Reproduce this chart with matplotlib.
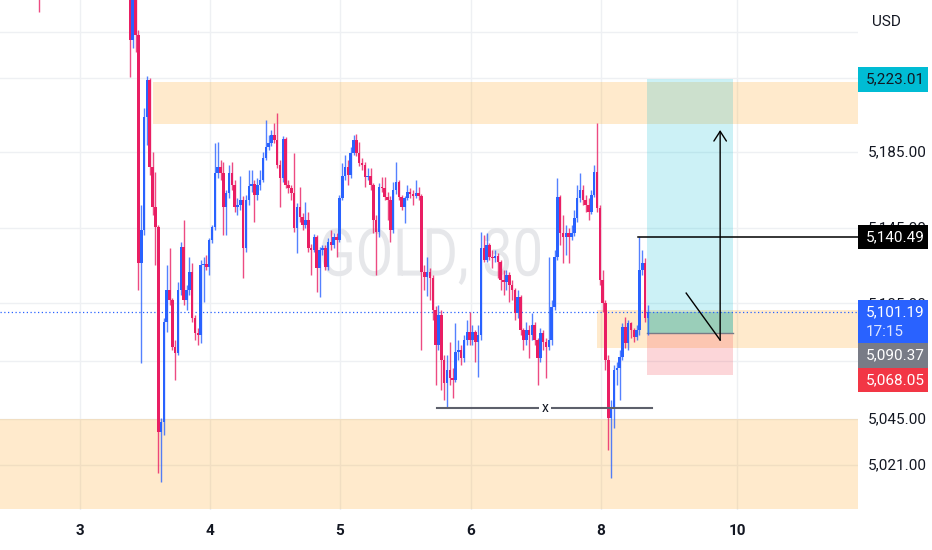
import numpy as np
import matplotlib
matplotlib.use('Agg')
import matplotlib.pyplot as plt
from matplotlib.patches import Rectangle, PathPatch
from matplotlib.textpath import TextPath
from matplotlib.font_manager import FontProperties
from matplotlib.transforms import Affine2D

plt.rcParams['font.family'] = ['Roboto', 'DejaVu Sans']

# 30 minute GOLD candles (open = previous close)
first_open = 5267.2
closes = [
    5243.6, 5264.6, 5246.3, 5126.8, 5144.1, 5203.3, 5222.7, 5177.1, 5156.2, 5145.7,
    5038.3, 5043.6, 5095.9, 5112.7, 5107.5, 5082.8, 5079.7, 5112.7, 5135.2, 5107.5,
    5112.7, 5122.1, 5098.0, 5090.2, 5089.1, 5125.8, 5126.3, 5124.7, 5138.9, 5145.7,
    5174.0, 5177.1, 5174.0, 5156.2, 5163.5, 5174.0, 5167.7, 5156.2, 5157.2, 5159.8,
    5134.7, 5159.8, 5167.2, 5168.2, 5162.5, 5167.7, 5170.3, 5181.8, 5187.6, 5189.7,
    5193.9, 5191.3, 5178.2, 5171.4, 5191.8, 5167.7, 5166.1, 5163.5, 5145.2, 5156.2,
    5150.9, 5146.7, 5149.4, 5134.7, 5133.6, 5140.5, 5124.2, 5133.6, 5134.7, 5124.7,
    5137.8, 5136.3, 5140.5, 5138.9, 5160.9, 5172.4, 5177.1, 5172.9, 5184.5, 5191.3,
    5184.5, 5179.2, 5178.2, 5171.9, 5172.4, 5167.7, 5149.4, 5143.1, 5166.6, 5166.1,
    5161.4, 5159.8, 5144.1, 5165.1, 5169.3, 5161.4, 5156.2, 5160.9, 5164.0, 5163.0,
    5161.9, 5163.5, 5161.9, 5122.1, 5119.5, 5122.1, 5119.0, 5102.2, 5083.9, 5099.6,
    5076.0, 5064.0, 5070.8, 5066.6, 5065.6, 5080.2, 5081.3, 5077.1, 5086.5, 5090.7,
    5086.5, 5090.7, 5085.5, 5089.1, 5134.7, 5128.4, 5136.3, 5130.0, 5129.5, 5130.5,
    5127.4, 5117.9, 5116.9, 5120.6, 5115.3, 5112.7, 5100.6, 5109.0, 5091.7, 5086.5,
    5091.7, 5089.1, 5094.4, 5086.5, 5077.1, 5090.2, 5085.5, 5082.8, 5086.5, 5103.8,
    5130.0, 5161.4, 5142.6, 5140.5, 5142.6, 5140.5, 5142.6, 5150.4, 5160.9, 5165.1,
    5159.8, 5157.2, 5153.6, 5162.5, 5174.5, 5155.6, 5117.9, 5105.9, 5076.0, 5045.7,
    5050.9, 5070.8, 5071.8, 5077.6, 5093.3, 5084.9, 5095.4, 5091.7, 5088.1, 5091.7,
    5123.2, 5126.8, 5098.0, 5101.19]
highs = [
    5275.1, 5272.5, 5269.8, 5248.9, 5157.2, 5208.0, 5224.8, 5223.7, 5185.0, 5174.5,
    5146.7, 5045.7, 5098.0, 5125.8, 5134.7, 5108.5, 5086.5, 5116.9, 5137.8, 5149.4,
    5115.3, 5130.0, 5126.8, 5099.6, 5092.8, 5128.4, 5130.0, 5131.0, 5139.9, 5146.7,
    5189.7, 5190.2, 5180.8, 5179.7, 5165.1, 5178.2, 5179.7, 5170.3, 5160.9, 5172.4,
    5161.9, 5162.5, 5175.6, 5175.6, 5170.3, 5171.4, 5175.6, 5185.0, 5201.7, 5193.9,
    5196.5, 5200.2, 5205.4, 5180.8, 5193.4, 5192.8, 5170.3, 5167.7, 5184.5, 5158.3,
    5166.6, 5153.0, 5158.8, 5153.6, 5136.8, 5142.0, 5141.5, 5135.2, 5136.3, 5136.3,
    5139.9, 5144.1, 5142.6, 5142.6, 5162.5, 5179.2, 5183.4, 5180.8, 5187.6, 5193.9,
    5194.4, 5190.2, 5181.8, 5179.7, 5176.6, 5176.6, 5168.7, 5152.0, 5168.7, 5171.9,
    5171.9, 5164.0, 5161.9, 5169.3, 5179.7, 5170.3, 5162.5, 5161.9, 5167.7, 5166.1,
    5165.1, 5170.3, 5166.6, 5163.0, 5125.8, 5130.0, 5124.2, 5120.6, 5104.3, 5104.8,
    5102.2, 5078.7, 5078.7, 5085.5, 5071.8, 5095.4, 5086.5, 5083.9, 5089.1, 5097.0,
    5101.2, 5094.4, 5091.7, 5094.4, 5143.1, 5141.5, 5142.6, 5137.3, 5133.6, 5133.6,
    5132.1, 5128.4, 5123.2, 5123.2, 5122.1, 5117.9, 5113.7, 5112.7, 5110.1, 5092.8,
    5095.9, 5094.4, 5100.6, 5095.9, 5087.6, 5092.8, 5091.7, 5087.6, 5130.0, 5107.5,
    5133.6, 5171.4, 5162.5, 5152.0, 5146.7, 5145.2, 5146.7, 5154.6, 5167.7, 5174.0,
    5167.7, 5162.5, 5160.9, 5165.1, 5178.2, 5200.2, 5157.2, 5123.2, 5107.5, 5078.7,
    5055.1, 5073.4, 5075.0, 5081.3, 5095.4, 5098.6, 5097.0, 5095.9, 5092.8, 5094.4,
    5140.49, 5133.6, 5129.5, 5104.8]
lows = [
    5224.3, 5239.5, 5237.4, 5112.7, 5074.5, 5141.5, 5188.6, 5172.9, 5152.0, 5125.8,
    5016.8, 5012.1, 5036.7, 5090.7, 5104.8, 5081.3, 5065.6, 5078.7, 5110.1, 5104.8,
    5102.2, 5110.1, 5095.9, 5086.5, 5083.9, 5084.9, 5106.4, 5123.2, 5120.6, 5137.3,
    5144.1, 5171.4, 5170.3, 5141.5, 5141.5, 5160.9, 5165.1, 5153.6, 5152.0, 5154.6,
    5119.0, 5132.6, 5157.2, 5164.0, 5148.3, 5159.8, 5165.1, 5169.3, 5180.8, 5186.0,
    5188.1, 5189.7, 5176.6, 5156.2, 5169.3, 5166.1, 5163.5, 5159.8, 5143.1, 5132.1,
    5148.3, 5144.1, 5145.2, 5132.6, 5120.6, 5132.6, 5111.7, 5109.0, 5131.0, 5123.2,
    5123.2, 5133.6, 5134.7, 5130.0, 5137.8, 5159.8, 5170.3, 5167.7, 5171.4, 5183.4,
    5182.9, 5177.7, 5175.6, 5166.6, 5170.3, 5165.1, 5142.6, 5120.6, 5140.5, 5164.0,
    5159.8, 5149.4, 5137.8, 5142.6, 5163.0, 5159.8, 5154.6, 5147.8, 5159.8, 5160.9,
    5157.2, 5160.9, 5159.8, 5081.3, 5112.7, 5109.6, 5107.5, 5097.0, 5062.9, 5081.3,
    5060.3, 5055.1, 5050.9, 5062.9, 5056.1, 5064.5, 5076.0, 5073.4, 5075.0, 5083.9,
    5083.9, 5083.9, 5075.0, 5067.1, 5086.5, 5127.4, 5127.4, 5128.4, 5124.2, 5127.4,
    5119.0, 5112.7, 5110.1, 5112.7, 5106.4, 5107.5, 5097.0, 5098.0, 5089.1, 5081.3,
    5083.9, 5077.1, 5086.5, 5083.9, 5062.9, 5075.0, 5081.3, 5066.6, 5081.3, 5083.9,
    5102.2, 5128.4, 5136.3, 5126.8, 5131.0, 5126.8, 5138.9, 5141.0, 5148.3, 5158.8,
    5157.2, 5153.6, 5149.4, 5152.5, 5161.4, 5153.6, 5115.3, 5101.2, 5070.8, 5028.9,
    5014.2, 5040.4, 5062.9, 5055.1, 5076.0, 5082.3, 5081.3, 5087.6, 5085.5, 5086.5,
    5089.1, 5120.6, 5095.9, 5089.1]

# a lone earlier candle whose wick pokes into view at top left
stray_bar = -32
stray_ohlc = (5280.0, 5285.5, 5258.3, 5270.0)

# time axis (bar index of each day start)
day_labels = ['3', '4', '5', '6', '8', '10']
day_pos = [-17.7, 28.3, 74.2, 120.5, 166.4, 214.5]

# price scale
grid_prices = [5247.8, 5223.7, 5185.0, 5145.0, 5105.9, 5075.5, 5045.0, 5021.0]
axis_ticks = [5185.0, 5145.0, 5105.0, 5045.0, 5021.0]

# drawings
zones = [(8.1, 5199.6, 5221.6), (165.0, 5082.3, 5102.2), (-46.0, 4998.0, 5045.1)]
entry, target, stop = 5090.37, 5223.01, 5068.05
pos_x0, pos_x1 = 182.7, 213.1
level, level_x0 = 5140.49, 179.5
support, support_x0, support_x1, support_label_x = 5050.9, 108.5, 184.5, 146.6
arrow_x, arrow_y0, arrow_y1 = 208.5, 5086.5, 5196.5
diag_x0, diag_y0 = 196.5, 5111.1
countdown = '17:15'
watermark = 'GOLD, 30'

UP = '#2962ff'
DOWN = '#e91e63'
XMIN, XMAX = -45.9, 257.2
YMIN, YMAX = 4997.5, 5264.6

closes = np.array(closes)
highs = np.array(highs)
lows = np.array(lows)
opens = np.concatenate([[first_open], closes[:-1]])
idx = np.arange(len(closes))
last = closes[-1]

fig = plt.figure(figsize=(9.32, 5.5), dpi=100)
ax = fig.add_axes([0, 40 / 550, 858 / 932, 510 / 550])
ax.set_xlim(XMIN, XMAX)
ax.set_ylim(YMIN, YMAX)
for s in ax.spines.values():
    s.set_visible(False)

for p in grid_prices:
    ax.axhline(p, color='#eef0f3', lw=1, zorder=0)
for d in day_pos:
    ax.axvline(d, color='#eef0f3', lw=1, zorder=0)

# watermark stretched into its box
tp = TextPath((0, 0), watermark, size=1, prop=FontProperties(family='Roboto'))
ext = tp.get_extents()
bx0, by0, bx1, by1 = 322 / 858, 1 - 285 / 510, 540 / 858, 1 - 228 / 510
tr = (Affine2D().translate(-ext.x0, -ext.y0)
      .scale((bx1 - bx0) / ext.width, (by1 - by0) / ext.height)
      .translate(bx0, by0) + ax.transAxes)
ax.add_patch(PathPatch(tp, transform=tr, fc='#e6e7ea', ec='none', zorder=0.5))

# zones
for x0, lo, hi in zones:
    ax.add_patch(Rectangle((x0, lo), XMAX - x0, hi - lo,
                           fc=(1, 0.596, 0, 0.2), lw=0, zorder=1))

# long position tool
w = pos_x1 - pos_x0
ax.add_patch(Rectangle((pos_x0, entry), w, target - entry, fc=(0, 0.737, 0.831, 0.2), lw=0, zorder=1.2))
ax.add_patch(Rectangle((pos_x0, stop), w, entry - stop, fc=(0.949, 0.212, 0.271, 0.2), lw=0, zorder=1.2))
ax.add_patch(Rectangle((pos_x0, entry), w, last - entry, fc=(0.031, 0.6, 0.506, 0.25), lw=0, zorder=1.3))
ax.plot([pos_x0, pos_x1], [entry, entry], color='#787b86', lw=1, zorder=1.4)

# last price dotted line
ax.axhline(last, color=UP, lw=0.9, ls=(0, (1, 2)), zorder=2)

# candles
colors = np.where(closes >= opens, UP, DOWN)
ax.vlines(idx, lows, highs, colors=colors, lw=1, alpha=0.8, zorder=3)
body = np.maximum(np.abs(closes - opens), 0.6)
ax.bar(idx, body, bottom=np.minimum(opens, closes), width=0.9, color=colors, lw=0, zorder=3.1)
so, sh, sl, sc = stray_ohlc
ax.vlines(stray_bar, sl, sh, colors=DOWN, lw=1, alpha=0.8, zorder=3)

# lines and arrow
ax.plot([level_x0, XMAX], [level, level], color='black', lw=1.1, zorder=4)
ax.plot([support_x0, support_x1], [support, support], color='#5d606b', lw=1.5, zorder=4)
ax.text(support_label_x, support, 'x', ha='center', va='center', fontsize=10, color='#131722',
        zorder=5, bbox=dict(fc='white', ec='none', pad=2))
ax.annotate('', xy=(arrow_x, arrow_y1), xytext=(arrow_x, arrow_y0),
            arrowprops=dict(arrowstyle='->,head_length=0.7,head_width=0.45', color='black',
                            lw=1, shrinkA=0, shrinkB=0), zorder=4)
ax.plot([diag_x0, arrow_x], [diag_y0, arrow_y0], color='black', lw=1, zorder=4)

ax.set_yticks([])
ax.set_xticks(day_pos)
ax.set_xticklabels(day_labels, fontweight='semibold')
ax.tick_params(axis='x', length=0, pad=10, labelsize=11, colors='#131722')

# price scale
ax2 = fig.add_axes([858 / 932, 40 / 550, 74 / 932, 510 / 550])
ax2.set_xlim(0, 74)
ax2.set_ylim(YMIN, YMAX)
ax2.axis('off')
ax2.text(28, 1 - 22 / 510, 'USD', transform=ax2.get_xaxis_transform(), ha='center', va='center',
         fontsize=11, color='#131722')
for p in axis_ticks:
    ax2.text(10, p, f'{p:,.2f}', va='center', fontsize=11, color='#131722', zorder=2)


def tag(top, height, fc):
    ax2.add_patch(Rectangle((0, top - height), 70, height, fc=fc, lw=0, zorder=5))


tag(target + 6.5, 13.1, '#00bcd4')
ax2.text(8, target, f'{target:,.2f}', va='center', fontsize=11, color='#131722', zorder=6)
tag(level + 6.3, 12.6, '#000000')
ax2.text(8, level, f'{level:,.2f}', va='center', fontsize=11, color='white', zorder=6)
blue_top = last + 6.3
tag(blue_top, 22.5, UP)
ax2.text(8, last, f'{last:,.2f}', va='center', fontsize=11, color='white', zorder=6)
ax2.text(8, last - 10.5, countdown, va='center', fontsize=11, color='#dde5ff', zorder=6)
gray_top = blue_top - 22.5
tag(gray_top, 13.1, '#787b86')
ax2.text(8, gray_top - 6.55, f'{entry:,.2f}', va='center', fontsize=11, color='white', zorder=6)
red_top = gray_top - 13.1
tag(red_top, 12.6, '#f23645')
ax2.text(8, red_top - 6.3, f'{stop:,.2f}', va='center', fontsize=11, color='white', zorder=6)

fig.savefig('out.png', dpi=100)
